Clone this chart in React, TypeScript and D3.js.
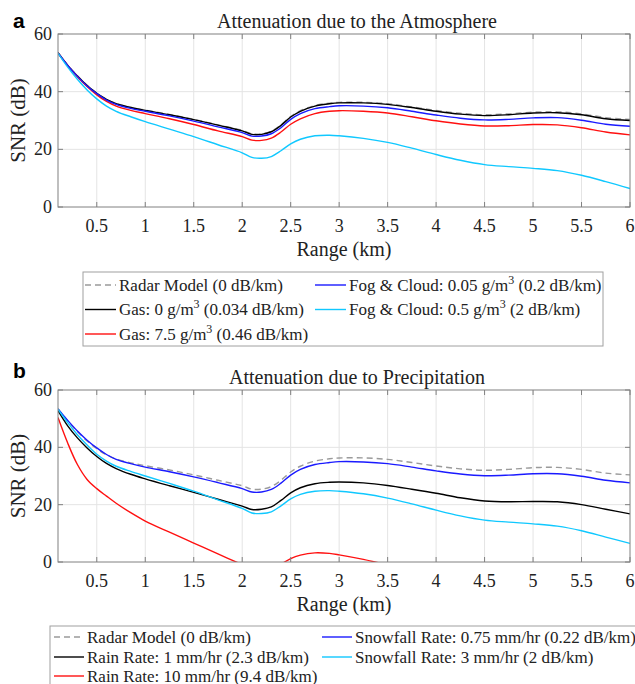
import * as d3 from "d3";
import React from "react";

// range samples (km) shared by every curve
const rangeKm = [0.1, 0.2, 0.3, 0.4, 0.5, 0.6, 0.7, 0.85, 1, 1.25, 1.5, 1.75, 2, 2.1, 2.2, 2.3, 2.4, 2.5, 2.6, 2.75, 2.9, 3, 3.25, 3.5, 3.75, 4, 4.25, 4.5, 4.75, 5, 5.25, 5.5, 5.75, 6];

// panel a - atmosphere
const radarModel = [53.5, 49.2, 45.5, 42.2, 39.5, 37.4, 35.9, 34.6, 33.6, 32.1, 30.4, 28.5, 26.6, 25.4, 25.4, 26.3, 28.5, 31.4, 33.4, 35.2, 36.0, 36.3, 36.3, 35.8, 34.7, 33.5, 32.5, 32.0, 32.3, 32.9, 33.0, 32.3, 31.0, 30.4];
const gas0 = [53.5, 49.1, 45.4, 42.1, 39.4, 37.3, 35.8, 34.5, 33.5, 32.0, 30.3, 28.4, 26.4, 25.2, 25.2, 26.1, 28.3, 31.2, 33.2, 35.0, 35.8, 36.1, 36.1, 35.6, 34.5, 33.2, 32.2, 31.7, 32.0, 32.6, 32.7, 32.0, 30.6, 30.0];
const gas75 = [53.4, 49.0, 45.2, 41.8, 38.9, 36.6, 35.0, 33.5, 32.4, 30.6, 28.6, 26.4, 24.4, 23.2, 23.1, 23.9, 26.0, 28.7, 30.6, 32.4, 33.2, 33.4, 33.2, 32.6, 31.3, 29.9, 28.8, 28.1, 28.2, 28.6, 28.5, 27.5, 26.0, 25.0];
const fog005 = [53.4, 49.1, 45.3, 42.0, 39.3, 37.1, 35.6, 34.2, 33.2, 31.6, 29.8, 27.8, 25.8, 24.6, 24.6, 25.4, 27.5, 30.4, 32.4, 34.1, 34.8, 35.1, 35.0, 34.4, 33.2, 31.9, 30.8, 30.2, 30.4, 30.9, 31.0, 30.1, 28.7, 28.0];
const fog05 = [53.4, 48.5, 44.3, 40.6, 37.5, 35.0, 33.2, 31.3, 29.6, 27.0, 24.4, 21.6, 18.8, 17.2, 16.9, 17.5, 19.5, 21.9, 23.5, 24.7, 24.9, 24.7, 23.8, 22.4, 20.4, 18.2, 16.2, 14.7, 14.0, 13.4, 12.6, 11.0, 8.8, 6.4];

// panel b - precipitation
const rain1 = [52.8, 47.5, 43.3, 39.8, 36.8, 34.4, 32.6, 30.6, 29.0, 26.6, 24.3, 21.9, 19.5, 18.3, 18.4, 19.2, 21.5, 24.1, 25.9, 27.3, 27.8, 27.9, 27.6, 26.7, 25.4, 24.0, 22.4, 21.3, 21.0, 21.1, 21.0, 20.0, 18.4, 16.8];
const rain10 = [50.4, 41.5, 34.0, 28.8, 25.6, 23.0, 20.5, 17.2, 14.3, 10.4, 6.6, 2.8, -0.9, null, null, null, -0.8, 1.2, 2.4, 3.2, 3.0, 2.5, 0.9, -1.0, null, null, null, null, null, null, null, null, null, null];
const snow075 = [53.4, 49.4, 45.7, 42.5, 39.8, 37.5, 35.8, 34.3, 33.1, 31.5, 29.7, 27.7, 25.6, 24.4, 24.4, 25.3, 27.5, 30.3, 32.3, 34.0, 34.7, 35.0, 34.9, 34.3, 33.1, 31.8, 30.7, 30.1, 30.3, 30.8, 30.8, 29.9, 28.5, 27.6];
const snow3 = [53.3, 48.6, 44.4, 40.8, 37.6, 35.2, 33.4, 31.6, 30.0, 27.4, 24.7, 21.7, 18.7, 17.1, 16.9, 17.5, 19.6, 22.0, 23.6, 24.7, 24.9, 24.7, 23.8, 22.3, 20.3, 18.1, 16.1, 14.6, 13.9, 13.3, 12.5, 10.9, 8.7, 6.5];

const xTicks = [0.5, 1, 1.5, 2, 2.5, 3, 3.5, 4, 4.5, 5, 5.5, 6];
const yTicks = [0, 20, 40, 60];

const SERIF = "'Liberation Serif', 'Times New Roman', serif";
const SANS = "'Liberation Sans', Arial, sans-serif";

type Series = { name: string; values: (number | null)[]; color: string; dashed?: boolean; label: string[] };

const atmosphere: Series[] = [
  { name: "radar", values: radarModel, color: "#9a9a9a", dashed: true, label: ["Radar Model (0 dB/km)"] },
  { name: "gas0", values: gas0, color: "#000000", label: ["Gas: 0 g/m", "3", " (0.034 dB/km)"] },
  { name: "gas75", values: gas75, color: "#ff1010", label: ["Gas: 7.5 g/m", "3", " (0.46 dB/km)"] },
  { name: "fog005", values: fog005, color: "#1a1aff", label: ["Fog & Cloud: 0.05 g/m", "3", " (0.2 dB/km)"] },
  { name: "fog05", values: fog05, color: "#10c8ff", label: ["Fog & Cloud: 0.5 g/m", "3", " (2 dB/km)"] },
];

const precipitation: Series[] = [
  { name: "radar", values: radarModel, color: "#9a9a9a", dashed: true, label: ["Radar Model (0 dB/km)"] },
  { name: "rain1", values: rain1, color: "#000000", label: ["Rain Rate: 1 mm/hr (2.3 dB/km)"] },
  { name: "rain10", values: rain10, color: "#ff1010", label: ["Rain Rate: 10 mm/hr (9.4 dB/km)"] },
  { name: "snow075", values: snow075, color: "#1a1aff", label: ["Snowfall Rate: 0.75 mm/hr (0.22 dB/km)"] },
  { name: "snow3", values: snow3, color: "#10c8ff", label: ["Snowfall Rate: 3 mm/hr (2 dB/km)"] },
];

type LegendLayout = { x: number; y: number; w: number; h: number; rows: number[]; cols: number[]; lineLen: number; gap: number };

function Panel({ id, top, bottom, letter, title, series, legend }: {
  id: string; top: number; bottom: number; letter: string; title: string; series: Series[]; legend: LegendLayout;
}) {
  const left = 58, right = 630;
  const x = d3.scaleLinear().domain([0.1, 6]).range([left, right]);
  const y = d3.scaleLinear().domain([0, 60]).range([bottom, top]);

  const line = d3
    .line<number | null>()
    .defined((d) => d != null)
    .x((_, i) => x(rangeKm[i]))
    .y((d) => y(d as number))
    .curve(d3.curveCatmullRom.alpha(0.5));

  const axisColor = "#808080";
  const textColor = "#222";

  return (
    <g>
      <defs>
        <clipPath id={"clip-" + id}>
          <rect x={left} y={top} width={right - left} height={bottom - top} />
        </clipPath>
      </defs>
      <text x={13} y={top - 6 - (id === "b" ? 6 : 0)} fontFamily={SANS} fontWeight="bold" fontSize={21} fill="#000">
        {letter}
      </text>
      <text x={357} y={top - 6} textAnchor="middle" fontFamily={SERIF} fontSize={20} fill={textColor}>
        {title}
      </text>

      {/* grid */}
      {xTicks.slice(0, -1).map((t) => (
        <line key={"gx" + t} x1={x(t)} x2={x(t)} y1={top} y2={bottom} stroke="#e4e4e4" strokeWidth={1} />
      ))}
      {yTicks.slice(1, -1).map((t) => (
        <line key={"gy" + t} x1={left} x2={right} y1={y(t)} y2={y(t)} stroke="#e4e4e4" strokeWidth={1} />
      ))}

      {/* curves */}
      <g clipPath={`url(#clip-${id})`}>
        {series.map((s) => (
          <path
            key={s.name}
            d={line(s.values) || ""}
            fill="none"
            stroke={s.color}
            strokeWidth={1.4}
            strokeDasharray={s.dashed ? "6,4" : undefined}
          />
        ))}
      </g>

      {/* box + inward ticks */}
      <rect x={left} y={top} width={right - left} height={bottom - top} fill="none" stroke={axisColor} strokeWidth={1} />
      {xTicks.map((t) => (
        <g key={"tx" + t}>
          <line x1={x(t)} x2={x(t)} y1={bottom} y2={bottom - 5} stroke={axisColor} />
          <line x1={x(t)} x2={x(t)} y1={top} y2={top + 5} stroke={axisColor} />
          <text x={x(t)} y={bottom + 25} textAnchor="middle" fontFamily={SERIF} fontSize={18} fill={textColor}>
            {t}
          </text>
        </g>
      ))}
      {yTicks.map((t) => (
        <g key={"ty" + t}>
          <line x1={left} x2={left + 5} y1={y(t)} y2={y(t)} stroke={axisColor} />
          <line x1={right} x2={right - 5} y1={y(t)} y2={y(t)} stroke={axisColor} />
          <text x={52} y={y(t) + 6} textAnchor="end" fontFamily={SERIF} fontSize={18} fill={textColor}>
            {t}
          </text>
        </g>
      ))}

      <text x={(left + right) / 2} y={bottom + 49} textAnchor="middle" fontFamily={SERIF} fontSize={20} fill={textColor}>
        Range (km)
      </text>
      <text
        transform={`translate(25,${(top + bottom) / 2}) rotate(-90)`}
        textAnchor="middle"
        fontFamily={SERIF}
        fontSize={21}
        fill={textColor}
      >
        SNR (dB)
      </text>

      {/* legend */}
      <rect x={legend.x} y={legend.y} width={legend.w} height={legend.h} fill="#fff" stroke="#a0a0a0" strokeWidth={1} />
      {series.map((s, i) => {
        const col = i < 3 ? 0 : 1;
        const row = i < 3 ? i : i - 3;
        const lx = legend.cols[col];
        const ly = legend.rows[row];
        return (
          <g key={"lg" + s.name}>
            <line
              x1={lx}
              x2={lx + legend.lineLen}
              y1={ly}
              y2={ly}
              stroke={s.color}
              strokeWidth={1.4}
              strokeDasharray={s.dashed ? "6,4" : undefined}
            />
            <text x={lx + legend.lineLen + legend.gap} y={ly + 5.5} fontFamily={SERIF} fontSize={17} fill={textColor}>
              {s.label.length === 1 ? (
                s.label[0]
              ) : (
                <>
                  <tspan>{s.label[0]}</tspan>
                  <tspan dy={-7} fontSize={12}>{s.label[1]}</tspan>
                  <tspan dy={7}>{s.label[2]}</tspan>
                </>
              )}
            </text>
          </g>
        );
      })}
    </g>
  );
}

const legendA: LegendLayout = { x: 83, y: 272, w: 520, h: 74, rows: [285, 309.5, 334], cols: [85, 315], lineLen: 31, gap: 3 };
const legendB: LegendLayout = { x: 50, y: 626, w: 600, h: 80, rows: [637, 657, 676], cols: [54, 322], lineLen: 30, gap: 3 };

export default function App() {
  return (
    <svg
      width={635}
      height={684}
      style={{ position: "absolute", left: 0, top: 0, background: "#fff" }}
    >
      <rect width={635} height={684} fill="#fff" />
      <Panel id="a" top={34} bottom={207} letter="a" title="Attenuation due to the Atmosphere" series={atmosphere} legend={legendA} />
      <Panel id="b" top={390} bottom={562} letter="b" title="Attenuation due to Precipitation" series={precipitation} legend={legendB} />
    </svg>
  );
}
